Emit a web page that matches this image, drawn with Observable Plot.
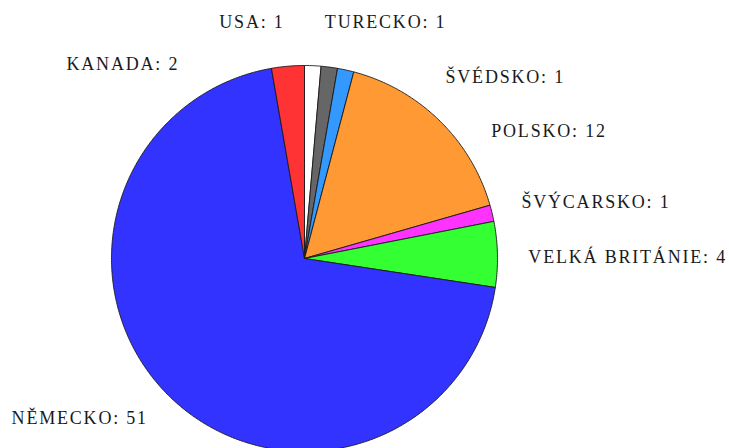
<!DOCTYPE html>
<html><head><meta charset="utf-8">
<script src="https://cdn.jsdelivr.net/npm/d3@7"></script>
<script src="https://cdn.jsdelivr.net/npm/@observablehq/plot@0.6"></script>
<style>html,body{margin:0;padding:0;background:#fff;overflow:hidden}</style>
</head><body><div id="chart"></div>
<script>
// ---- data ----
const countries = ["USA", "TURECKO", "ŠVÉDSKO", "POLSKO", "ŠVÝCARSKO", "VELKÁ BRITÁNIE", "NĚMECKO", "KANADA"];
const counts = [1, 1, 1, 12, 1, 4, 51, 2];
const colors = ["#ffffff", "#666666", "#3399ff", "#ff9933", "#ff33ff", "#33ff33", "#3333ff", "#ff3333"];

// ---- layout ----
const W = 729, H = 448;
const R = 193;                 // pie radius in px
const cx = 304, cy = 258;      // pie centre in px
const FONT_FAMILY = "'Liberation Serif', 'DejaVu Serif', serif";
const FONT_SIZE = 18, LS = 1.8;

const total = d3.sum(counts);
let acc = 0;
const slices = countries.map((c, i) => {
  const a0 = acc / total * 2 * Math.PI; acc += counts[i];
  const a1 = acc / total * 2 * Math.PI;
  return {c, i, a0, a1, mid: (a0 + a1) / 2, label: `${c}: ${counts[i]}`};
});

// polygon points for each slice (angles clockwise from top), unit radius
const poly = [];
for (const s of slices) {
  const n = Math.max(2, Math.ceil((s.a1 - s.a0) / (Math.PI / 360)));
  poly.push({c: s.c, X: 0, Y: 0});
  for (let j = 0; j <= n; j++) {
    const t = s.a0 + (s.a1 - s.a0) * j / n;
    poly.push({c: s.c, X: Math.sin(t), Y: Math.cos(t)});
  }
  poly.push({c: s.c, X: 0, Y: 0});
}

// ---- label placement with simple collision relaxation ----
const ctx = document.createElement("canvas").getContext("2d");
ctx.font = `${FONT_SIZE}px ${FONT_FAMILY}`;
const Rl = 1.16 * R, lift = 13;
const L = slices.map(s => ({...s, t: s.mid, w: ctx.measureText(s.label).width + LS * s.label.length, h: 14}));
function box(l) {
  const c = Math.cos(l.t);
  const x = Rl * Math.sin(l.t), y = -(Rl * c + lift * Math.max(0, c) * c);
  const start = Math.sin(l.t) >= 0;
  return {x, y, start, x0: start ? x : x - l.w, x1: start ? x + l.w : x, y0: y - l.h / 2, y1: y + l.h / 2};
}
const padX = 40, padY = 40;
for (let it = 0; it < 6000; it++) {
  let moved = false;
  for (let i = 0; i < L.length; i++) for (let j = i + 1; j < L.length; j++) {
    const a = box(L[i]), b = box(L[j]);
    if (a.x0 < b.x1 + padX && b.x0 < a.x1 + padX && a.y0 < b.y1 + padY && b.y0 < a.y1 + padY) {
      let d = L[j].t - L[i].t;
      d = ((d + Math.PI) % (2 * Math.PI) + 2 * Math.PI) % (2 * Math.PI) - Math.PI;
      const sgn = d >= 0 ? 1 : -1;
      L[i].t -= sgn * 0.002; L[j].t += sgn * 0.002; moved = true;
    }
  }
  if (!moved) break;
}
const labels = L.map(l => { const b = box(l); return {label: l.label, X: b.x / R, Y: -b.y / R, start: b.start}; });

const chart = Plot.plot({
  width: W, height: H,
  marginLeft: cx - R, marginRight: W - (cx + R),
  marginTop: cy - R, marginBottom: 0,
  x: {domain: [-1, 1], axis: null},
  y: {domain: [-(H - cy) / R, 1], axis: null},
  color: {domain: countries, range: colors},
  style: {fontFamily: FONT_FAMILY, fontSize: FONT_SIZE + "px", letterSpacing: LS + "px", background: "#fff", overflow: "visible"},
  marks: [
    Plot.line(poly, {x: "X", y: "Y", z: "c", fill: "c", stroke: "#1a1a1a", strokeWidth: 0.9, strokeLinejoin: "round"}),
    Plot.text(labels.filter(d => d.start), {x: "X", y: "Y", text: "label", textAnchor: "start", fill: "#1a1a1a", fontSize: FONT_SIZE}),
    Plot.text(labels.filter(d => !d.start), {x: "X", y: "Y", text: "label", textAnchor: "end", fill: "#1a1a1a", fontSize: FONT_SIZE})
  ]
});
document.getElementById("chart").appendChild(chart);
</script>
</body></html>
